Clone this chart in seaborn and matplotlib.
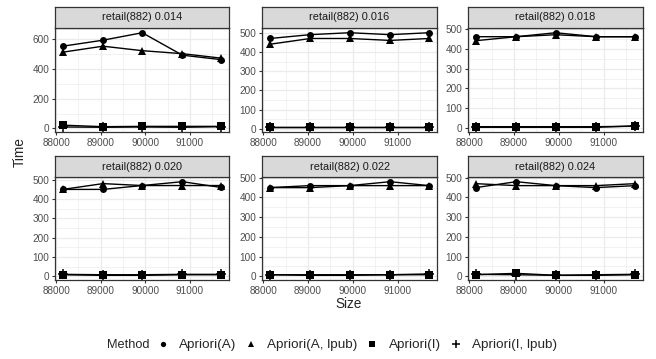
#!/usr/bin/env python3
"""Apriori runtime vs dataset size, faceted by minimum support (retail)."""

import matplotlib
matplotlib.use("Agg")
import matplotlib.pyplot as plt
import pandas as pd
import seaborn as sns
from matplotlib.lines import Line2D

sizes = [88150, 89050, 89930, 90830, 91700]
supports = ["0.014", "0.016", "0.018", "0.020", "0.022", "0.024"]
methods = ["Apriori(A)", "Apriori(A, lpub)", "Apriori(I)", "Apriori(I, lpub)"]

# Time per method, one list per support facet
apriori_a = [
    [550, 590, 640, 490, 460],
    [470, 490, 500, 490, 500],
    [460, 460, 480, 460, 460],
    [450, 450, 470, 490, 460],
    [450, 460, 460, 480, 460],
    [450, 480, 460, 450, 460],
]
apriori_a_lpub = [
    [510, 550, 520, 500, 470],
    [440, 470, 470, 460, 470],
    [440, 460, 470, 460, 460],
    [450, 480, 470, 470, 470],
    [450, 450, 460, 460, 460],
    [470, 460, 460, 460, 470],
]
apriori_i = [
    [22, 12, 14, 14, 14],
    [8, 8, 8, 8, 8],
    [5, 5, 5, 5, 12],
    [8, 5, 5, 8, 8],
    [8, 5, 5, 8, 8],
    [8, 15, 5, 5, 8],
]
apriori_i_lpub = [
    [10, 8, 10, 8, 12],
    [10, 10, 10, 10, 10],
    [8, 8, 8, 8, 10],
    [10, 8, 8, 10, 10],
    [8, 8, 8, 8, 12],
    [10, 8, 5, 8, 10],
]

rows = []
for k, sup in enumerate(supports):
    for m, series in zip(methods, [apriori_a, apriori_a_lpub, apriori_i, apriori_i_lpub]):
        for x, y in zip(sizes, series[k]):
            rows.append({"Support": sup, "Method": m, "Size": x, "Time": y})
df = pd.DataFrame(rows)

markers = {"Apriori(A)": "o", "Apriori(A, lpub)": "^", "Apriori(I)": "s", "Apriori(I, lpub)": "+"}
msizes = {"Apriori(A)": 5, "Apriori(A, lpub)": 5.5, "Apriori(I)": 5.5, "Apriori(I, lpub)": 6.5}
mews = {"Apriori(A)": 0, "Apriori(A, lpub)": 0, "Apriori(I)": 0, "Apriori(I, lpub)": 1.1}

sns.set_style("white")
plt.rcParams["font.family"] = ["Liberation Sans", "DejaVu Sans"]

W, H = 656, 359
fig = plt.figure(figsize=(W / 100, H / 100), dpi=100)

cols = [(55, 229), (262, 437), (468, 643)]
panel_rows = [(28, 132), (177, 280)]
strip_h = 21

for k, sup in enumerate(supports):
    r, c = divmod(k, 3)
    x0, x1 = cols[c]
    top, bot = panel_rows[r]
    ax = fig.add_axes([x0 / W, 1 - bot / H, (x1 - x0) / W, (bot - top) / H])
    sub = df[df["Support"] == sup]
    for m in methods:
        s = sub[sub["Method"] == m]
        sns.lineplot(data=s, x="Size", y="Time", ax=ax, color="black", lw=1,
                     marker=markers[m], markersize=msizes[m], markeredgewidth=mews[m],
                     markeredgecolor="black", legend=False)
    ax.set_xlim(87975, 91875)
    ymax = sub["Time"].max()
    ymin = sub["Time"].min()
    pad = (ymax - ymin) * 0.05
    ax.set_ylim(ymin - pad, ymax + pad)
    ax.set_xticks([88000, 89000, 90000, 91000])
    ax.set_xticks([88500, 89500, 90500, 91500], minor=True)
    if k == 0:
        ax.set_yticks([0, 200, 400, 600])
        ax.set_yticks([100, 300, 500], minor=True)
    else:
        ax.set_yticks([0, 100, 200, 300, 400, 500])
        ax.set_yticks([50, 150, 250, 350, 450], minor=True)
    ax.grid(which="major", color="#EBEBEB", lw=0.9)
    ax.grid(which="minor", color="#EBEBEB", lw=0.45)
    ax.set_axisbelow(True)
    for sp in ax.spines.values():
        sp.set_color("#333333")
        sp.set_linewidth(0.9)
    ax.tick_params(which="major", length=2.5, width=0.8, color="#333333",
                   labelsize=7.2, labelcolor="#4D4D4D", pad=1.5, direction="out",
                   bottom=True, left=True)
    ax.tick_params(which="minor", length=0)
    ax.set_xlabel("")
    ax.set_ylabel("")

    # facet strip
    sax = fig.add_axes([x0 / W, 1 - top / H, (x1 - x0) / W, strip_h / H])
    sax.set_xticks([])
    sax.set_yticks([])
    sax.set_facecolor("#D9D9D9")
    for sp in sax.spines.values():
        sp.set_color("#333333")
        sp.set_linewidth(0.9)
    sax.text(0.5, 0.5, f"retail(882) {sup}", ha="center", va="center",
             fontsize=7.9, color="#1A1A1A", transform=sax.transAxes)

fig.text(349 / W, 1 - 304 / H, "Size", ha="center", va="center", fontsize=9.8)
fig.text(20 / W, 1 - 152 / H, "Time", ha="center", va="center", fontsize=9.8, rotation=90)

# legend along the bottom
fig.text(107 / W, 1 - 345 / H, "Method", ha="left", va="center", fontsize=9.2)
handles = [Line2D([], [], color="black", lw=0, marker=markers[m],
                  markersize=msizes[m] - 1.2, markeredgewidth=mews[m]) for m in methods]
fig.legend(handles, methods, loc="center left", bbox_to_anchor=(156 / W, 1 - 345 / H),
           ncol=4, frameon=False, fontsize=9.7, handlelength=1.0, handletextpad=0.7,
           columnspacing=0.6, borderpad=0, borderaxespad=0)

fig.savefig("out.png", dpi=100)
